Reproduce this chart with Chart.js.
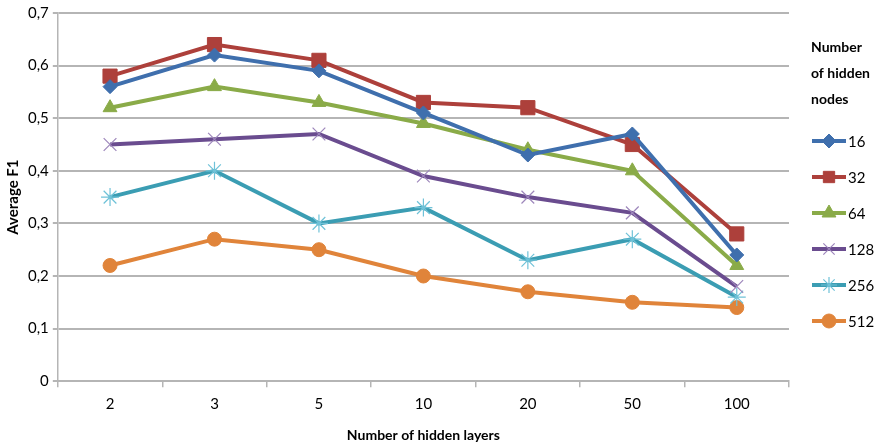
<!DOCTYPE html>
<html>
<head>
<meta charset="utf-8">
<script src="https://cdn.jsdelivr.net/npm/chart.js@4/dist/chart.umd.min.js"></script>
<style>
html,body{margin:0;padding:0;background:#fff;}
#wrap{width:874px;height:444px;position:relative;}
</style>
</head>
<body>
<div id="wrap"><canvas id="c" width="874" height="444"></canvas></div>
<script>
const categories = ['2', '3', '5', '10', '20', '50', '100'];
const seriesNames = ['16', '32', '64', '128', '256', '512'];
const s16  = [0.56, 0.62, 0.59, 0.51, 0.43, 0.47, 0.24];
const s32  = [0.58, 0.64, 0.61, 0.53, 0.52, 0.45, 0.28];
const s64  = [0.52, 0.56, 0.53, 0.49, 0.44, 0.40, 0.22];
const s128 = [0.45, 0.46, 0.47, 0.39, 0.35, 0.32, 0.18];
const s256 = [0.35, 0.40, 0.30, 0.33, 0.23, 0.27, 0.16];
const s512 = [0.22, 0.27, 0.25, 0.20, 0.17, 0.15, 0.14];
const xTitle = 'Number of hidden layers';
const yTitle = 'Average F1';
const legendTitle = ['Number', 'of hidden', 'nodes'];

const FONT = 'Lato, "Open Sans", sans-serif';
const lineColors = ['#3f6fad', '#ad403b', '#8aab48', '#6a4c8f', '#3b9db3', '#e0843a'];
const markerColors = ['#3f6fad', '#ad403b', '#8aab48', '#9d86bb', '#6fc2d8', '#e0843a'];
const pointStyles = ['rectRot', 'rect', 'triangle', 'crossRot', 'star', 'circle'];
const pointRadii = [7, 10, 8, 9, 9, 7];
const pointBorders = [1, 1, 1, 1.2, 1.2, 1];
const allValues = [s16, s32, s64, s128, s256, s512];

const datasets = allValues.map((vals, i) => ({
  label: seriesNames[i],
  data: vals,
  borderColor: lineColors[i],
  backgroundColor: markerColors[i],
  borderWidth: 4,
  tension: 0,
  pointStyle: pointStyles[i],
  pointRadius: pointRadii[i],
  pointHoverRadius: pointRadii[i],
  pointBackgroundColor: markerColors[i],
  pointBorderColor: markerColors[i],
  pointBorderWidth: pointBorders[i]
}));

const legendPlugin = {
  id: 'sideLegend',
  afterDraw(chart) {
    const ctx = chart.ctx;
    ctx.save();
    ctx.fillStyle = '#000';
    ctx.textBaseline = 'middle';
    ctx.textAlign = 'left';
    ctx.font = 'bold 14px ' + FONT;
    legendTitle.forEach((t, i) => ctx.fillText(t, 811, 47 + i * 26));
    ctx.font = '15px ' + FONT;
    chart.data.datasets.forEach((ds, i) => {
      const y = 141 + i * 36;
      ctx.strokeStyle = ds.borderColor;
      ctx.lineWidth = 4;
      ctx.beginPath();
      ctx.moveTo(812, y);
      ctx.lineTo(846, y);
      ctx.stroke();
      ctx.fillStyle = ds.pointBackgroundColor;
      ctx.strokeStyle = ds.pointBorderColor;
      ctx.lineWidth = ds.pointBorderWidth;
      Chart.helpers.drawPoint(ctx, {pointStyle: ds.pointStyle, rotation: 0, borderWidth: ds.pointBorderWidth, radius: Math.min(ds.pointRadius, 8)}, 829, y);
      ctx.fillStyle = '#000';
      ctx.fillText(ds.label, 848, y + 1);
    });
    ctx.restore();
  }
};

new Chart(document.getElementById('c'), {
  type: 'line',
  data: { labels: categories, datasets },
  options: {
    responsive: false,
    animation: false,
    layout: { padding: { top: 4, right: 85, left: 4, bottom: 0 } },
    plugins: { legend: { display: false }, tooltip: { enabled: false } },
    scales: {
      x: {
        offset: true,
        grid: { offset: true, drawOnChartArea: false, drawTicks: true, tickLength: 6, color: '#b5b5b5', lineWidth: 1.5 },
        border: { display: true, color: '#b5b5b5', width: 2 },
        ticks: { color: '#000', font: { family: FONT, size: 15 }, padding: 8 },
        title: { display: true, text: xTitle, color: '#000', font: { family: FONT, size: 14, weight: 'bold' }, padding: { top: 6, bottom: 0 } }
      },
      y: {
        min: 0, max: 0.7,
        ticks: { stepSize: 0.1, color: '#000', font: { family: FONT, size: 15 }, padding: 4,
          callback: v => v === 0 ? '0' : v.toFixed(1).replace('.', ',') },
        grid: { color: '#b5b5b5', lineWidth: 2, tickLength: 5 },
        border: { display: true, color: '#b5b5b5', width: 1.5 },
        title: { display: true, text: yTitle, color: '#000', font: { family: FONT, size: 15, weight: 'bold' }, padding: { top: 0, bottom: 2 } }
      }
    }
  },
  plugins: [legendPlugin]
});
</script>
</body>
</html>
